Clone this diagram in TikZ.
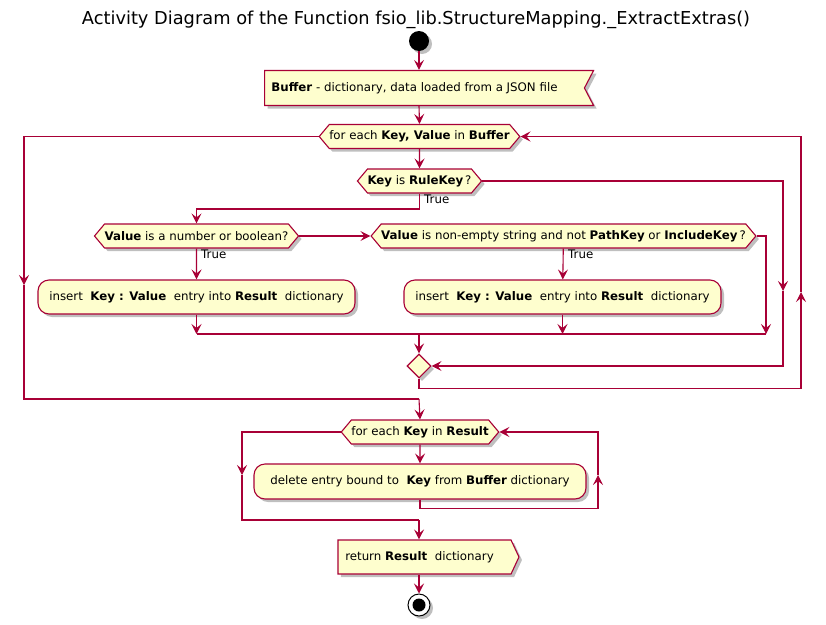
\documentclass[tikz,border=0pt]{standalone}
\usepackage{fontspec}
\setmainfont{DejaVu Sans}
\usetikzlibrary{shapes.symbols,shapes.geometric,arrows.meta,shadows}

\definecolor{umlred}{HTML}{A80036}
\definecolor{umlfill}{HTML}{FEFECE}
\def \hexheight {24pt}
\def \boxheight {34pt}
\def \textsize {\fontsize{11.8}{14}\selectfont}

\tikzset{
  shade/.style={drop shadow={shadow xshift=3pt, shadow yshift=-3pt, fill=black, opacity=0.25}},
  base/.style={draw=umlred, fill=umlfill, line width=1.1pt, font=\textsize, inner sep=0pt, shade},
  hexa/.style={base, signal, signal to=west and east, signal pointer angle=100, minimum height=\hexheight},
  action/.style={base, rectangle, rounded corners=11pt, minimum height=\boxheight},
  inbox/.style={base, signal, signal to=nowhere, signal from=east, signal pointer angle=125, minimum height=35pt},
  outbox/.style={base, signal, signal to=east, signal pointer angle=130, minimum height=\boxheight},
  flow/.style={draw=umlred, line width=1.1pt},
  guard/.style={font=\textsize, inner sep=0pt, anchor=west}
}

\begin{document}
\begin{tikzpicture}[x=1pt, y=-1pt, >={Stealth[length=10pt, width=10pt, inset=4pt]}]
\useasboundingbox (0,0) rectangle (826,624);
\node[font=\fontsize{17.8}{20}\selectfont] (title) at (416,20) {Activity Diagram of the Function fsio\_lib.StructureMapping.\_ExtractExtras()};

% outer loop over Buffer
\node[circle, fill=black, minimum size=20pt, inner sep=0pt, shade] (start) at (419,41) {};
\node[inbox, minimum width=329pt] (buf) at (424.5,88) {\textbf{Buffer} - dictionary, data loaded from a JSON file\hspace*{20pt}};
\node[hexa, minimum width=199pt] (loopa) at (419.5,136.5) {for each \textbf{Key, Value}\ in \textbf{Buffer}};
\node[hexa, minimum width=123pt] (rule) at (419.5,181) {\textbf{Key}\ is \textbf{RuleKey}\,?};
\node[hexa, minimum width=203pt] (isnum) at (196.5,236) {\textbf{Value} is a number or boolean?};
\node[hexa, minimum width=375pt] (isstr) at (563.5,236) {\textbf{Value} is non-empty string and not \textbf{PathKey}\ or \textbf{IncludeKey}\,?};
\node[action, minimum width=317pt] (insa) at (196.5,297) {insert\ \ \textbf{Key : Value}\ \ entry into \textbf{Result}\ \ dictionary};
\node[action, minimum width=317pt] (insb) at (562.5,297) {insert\ \ \textbf{Key : Value}\ \ entry into \textbf{Result}\ \ dictionary};
\node[base, diamond, minimum size=24pt] (merge) at (419,366) {};

% inner loop over Result
\node[hexa, minimum width=156pt] (loopb) at (420,432) {for each \textbf{Key} in \textbf{Result}};
\node[action, minimum width=332pt, minimum height=35pt] (del) at (420,481.5) {delete entry bound to\ \ \textbf{Key} from \textbf{Buffer} dictionary};
\node[outbox, minimum width=181pt] (ret) at (424.5,557) {return \textbf{Result}\ \ dictionary\hspace*{10pt}};
\node[circle, draw=black, fill=white, line width=1pt, minimum size=22pt, inner sep=0pt, shade] (stop) at (419,605) {};
\node[circle, fill=black, minimum size=13pt, inner sep=0pt] (stopdot) at (stop) {};

\node[guard] (truea) at (424,199) {True};
\node[guard] (trueb) at (201,254) {True};
\node[guard] (truec) at (568,254) {True};

\coordinate (ruletrue) at (196.5,209);
\coordinate (strfalse) at (766,334);
\coordinate (joina) at (196.5,334);
\coordinate (joinb) at (562.5,334);
\coordinate (joinm) at (419,334);
\coordinate (rulefalse) at (783,291);
\coordinate (backa) at (801,292);
\coordinate (exita) at (24,285);
\coordinate (enda) at (419,399);
\coordinate (backb) at (598,475);
\coordinate (exitb) at (242,475);
\coordinate (endb) at (419,520);

\draw[flow, ->] (start) -- (start |- buf.north);
\draw[flow, ->] (start |- buf.south) -- (loopa.north);
\draw[flow, ->] (loopa) -- (rule);
\draw[flow, ->] (rule.south) |- (ruletrue) -- (isnum.north);
\draw[flow, ->] (isnum.east) -- (isstr.west);
\draw[flow, ->] (isnum) -- (insa);
\draw[flow, ->] (isstr) -- (insb);
\draw[flow, ->] (isstr.east) -| (strfalse);
\draw[flow, ->] (insa) -- (joina);
\draw[flow, ->] (insb) -- (joinb);
\draw[flow] (joina) -- (strfalse);
\draw[flow, ->] (joinm) -- (merge);
\draw[flow, ->] (rule.east) -| (rulefalse);
\draw[flow, ->] (rulefalse) |- (merge.east);
\draw[flow, ->] (merge.south) -- ++(0,10) -| (backa);
\draw[flow, ->] (backa) |- (loopa.east);
\draw[flow, ->] (loopa.west) -| (exita);
\draw[flow] (exita) |- (enda);
\draw[flow, ->] (enda) -- (loopb.north);
\draw[flow, ->] (loopb) -- (del);
\draw[flow, ->] (del.south) -- ++(0,9) -| (backb);
\draw[flow, ->] (backb) |- (loopb.east);
\draw[flow, ->] (loopb.west) -| (exitb);
\draw[flow] (exitb) |- (endb);
\draw[flow, ->] (endb) -- (endb |- ret.north);
\draw[flow, ->] (stop |- ret.south) -- (stop);
\end{tikzpicture}
\end{document}
